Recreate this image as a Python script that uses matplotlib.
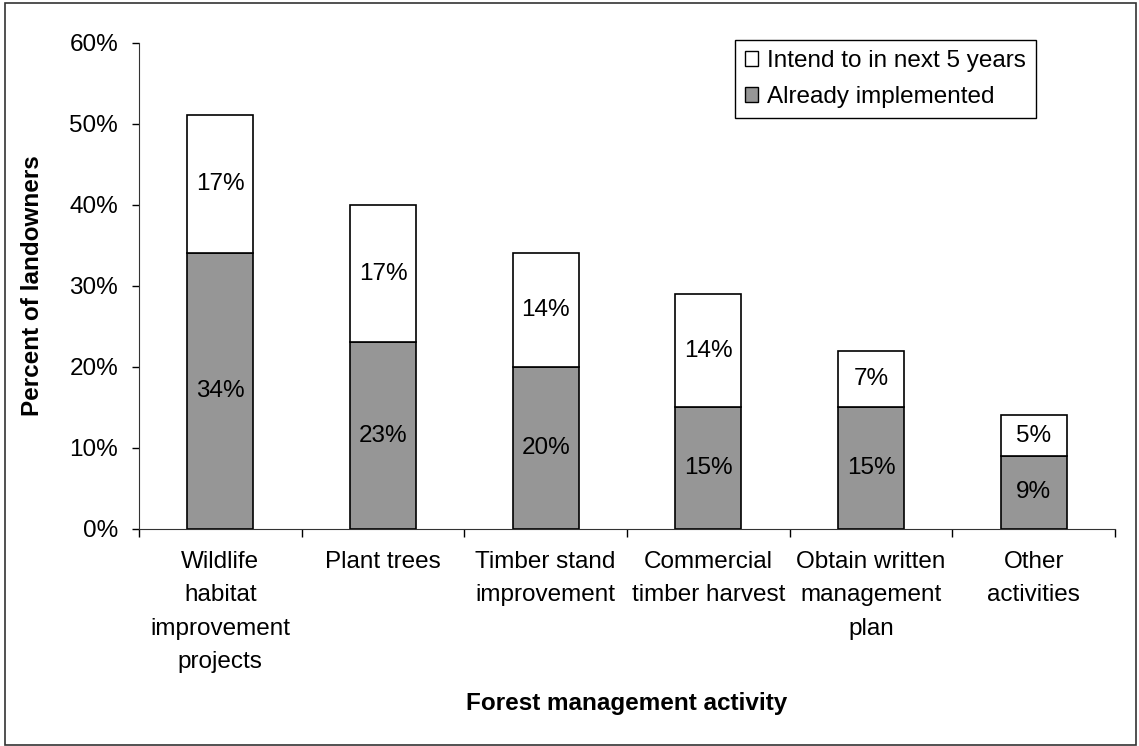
import matplotlib.pyplot as plt
from matplotlib.patches import Rectangle, Patch
from matplotlib.ticker import FixedLocator, PercentFormatter
import numpy as np

plt.rcParams['font.family'] = ['Liberation Sans', 'DejaVu Sans']
FS = 17.5

categories = ['Wildlife\nhabitat\nimprovement\nprojects', 'Plant trees',
              'Timber stand\nimprovement', 'Commercial\ntimber harvest',
              'Obtain written\nmanagement\nplan', 'Other\nactivities']
already = [34, 23, 20, 15, 15, 9]
intend = [17, 17, 14, 14, 7, 5]

fig = plt.figure(figsize=(11.39, 7.46), dpi=100)
ax = fig.add_axes([0.122, 0.291, 0.857, 0.652])

x = np.arange(len(categories))
w = 0.405
ax.bar(x, already, w, color='#969696', edgecolor='black', linewidth=1.2)
ax.bar(x, intend, w, bottom=already, color='white', edgecolor='black', linewidth=1.2)

for i in range(len(categories)):
    ax.text(x[i], already[i] / 2, f'{already[i]}%', ha='center', va='center', fontsize=FS)
    ax.text(x[i], already[i] + intend[i] / 2, f'{intend[i]}%', ha='center', va='center', fontsize=FS)

ax.set_xlim(-0.5, len(categories) - 0.5)
ax.set_ylim(0, 60)
ax.set_yticks(range(0, 61, 10))
ax.yaxis.set_major_formatter(PercentFormatter(decimals=0))
ax.tick_params(axis='y', labelsize=FS, length=5, width=1, pad=10, direction='out')

# category labels centred, ticks between categories
ax.set_xticks(x)
ax.set_xticklabels(categories, fontsize=FS, linespacing=1.66, va='top')
ax.tick_params(axis='x', which='major', length=0, pad=16)
ax.xaxis.set_minor_locator(FixedLocator(np.arange(-0.5, len(categories), 1)))
ax.tick_params(axis='x', which='minor', length=6, width=1, direction='out')

for s in ['top', 'right']:
    ax.spines[s].set_visible(False)
ax.spines['left'].set_color('#333333')
ax.spines['bottom'].set_color('#333333')

ax.set_ylabel('Percent of landowners', fontsize=FS, fontweight='bold', labelpad=18)
ax.set_xlabel('Forest management activity', fontsize=FS, fontweight='bold')
ax.xaxis.set_label_coords(0.5, -0.335)

handles = [Patch(facecolor='white', edgecolor='black', linewidth=1),
           Patch(facecolor='#969696', edgecolor='black', linewidth=1)]
leg = ax.legend(handles, ['Intend to in next 5 years', 'Already implemented'],
                loc='upper left', bbox_to_anchor=(0.611, 1.005), fontsize=FS,
                fancybox=False, framealpha=1, edgecolor='black',
                handlelength=0.55, handleheight=0.55, handletextpad=0.35,
                borderpad=0.4, labelspacing=0.6, borderaxespad=0)
leg.get_frame().set_linewidth(1)

fig.patches.append(Rectangle((0.004, 0.002), 0.993, 0.994, transform=fig.transFigure,
                             fill=False, edgecolor='#333333', linewidth=1.2))

fig.savefig('out.png', dpi=100)
